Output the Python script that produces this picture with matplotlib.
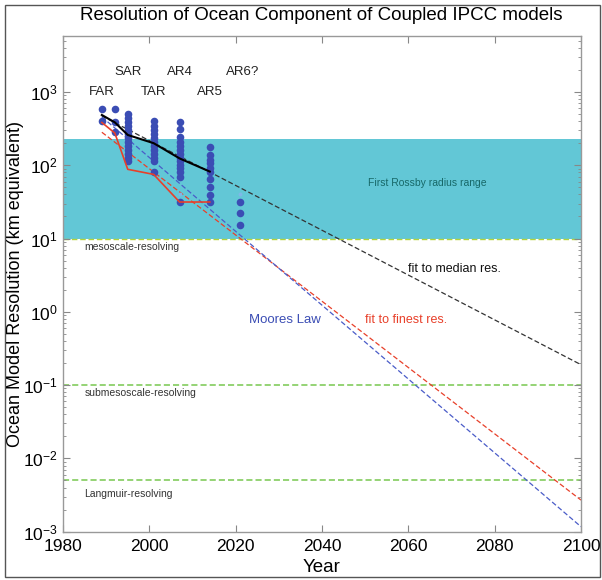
import matplotlib
matplotlib.use("Agg")
import matplotlib.pyplot as plt
from matplotlib.patches import Rectangle
import numpy as np

plt.rcParams['font.family'] = ['Liberation Sans', 'DejaVu Sans']
plt.rcParams['mathtext.fontset'] = 'custom'
plt.rcParams['mathtext.rm'] = 'Liberation Sans'
plt.rcParams['mathtext.it'] = 'Liberation Sans:italic'

# ---- data ----
model_years = [1989, 1992, 1995, 2001, 2007, 2014, 2021]
model_res = [
    [580, 400],
    [580, 390, 280],
    [500, 440, 390, 345, 305, 265, 235, 210, 185, 160, 143, 126, 115],
    [400, 345, 305, 265, 235, 210, 185, 160, 143, 126, 114, 80],
    [390, 310, 243, 210, 185, 160, 143, 126, 114, 101, 92, 80, 70, 31.5],
    [179, 138, 118, 106, 92, 81, 65, 50.6, 39, 31.5],
    [32, 22, 15.3],
]
faint_years = [2007, 2021]
faint_res = [40, 40]

median_years = [1989, 1992, 1995, 2001, 2007, 2014]
median_res = [485, 385, 259, 200, 124, 82]
finest_years = [1989, 1992, 1995, 2001, 2007, 2014]
finest_res = [383, 275, 88, 75, 31.5, 31.5]

fit_years = [1989, 2100]
median_fit = [470, 0.19]
finest_fit = [282, 0.0027]
moore_fit = [457, 0.00117]

rossby_range = [10, 226]
submeso_res = 0.1
langmuir_res = 0.005

report_names = ["FAR", "SAR", "TAR", "AR4", "AR5", "AR6?"]
report_years = [1989, 1995, 2001, 2007, 2014, 2021.6]
report_levels = [1000, 1900, 1000, 1900, 1000, 1900]

xticks = [1980, 2000, 2020, 2040, 2060, 2080, 2100]

# ---- figure ----
fig = plt.figure(figsize=(6.02, 5.80), dpi=100)
ax = fig.add_axes([63/602, 1-531.7/580, (581-63)/602, (531.7-36)/580])
ax.set_yscale('log')
ax.set_xlim(1980, 2100)
ax.set_ylim(1e-3, 5800)

ax.axhspan(rossby_range[0], rossby_range[1], color='#62C7D6', zorder=0, lw=0)
ax.axhline(rossby_range[0], color='#B5D33A', ls=(0, (4, 2)), lw=1.0, zorder=1)
ax.axhline(submeso_res, color='#78C850', ls=(0, (4, 2)), lw=1.1, zorder=1)
ax.axhline(langmuir_res, color='#78C850', ls=(0, (4, 2)), lw=1.1, zorder=1)

ax.plot(fit_years, median_fit, color='#333333', ls=(0, (4, 2)), lw=0.9, zorder=2)
ax.plot(fit_years, finest_fit, color='#E8402A', ls=(0, (4, 2)), lw=0.9, zorder=2)
ax.plot(fit_years, moore_fit, color='#4A5CC8', ls=(0, (4, 2)), lw=0.9, zorder=2)

for yr, vals in zip(model_years, model_res):
    ax.scatter([yr]*len(vals), vals, s=30, color='#3B4DB4', lw=0, zorder=3)
ax.scatter(faint_years, faint_res, s=8, color='#7FB8E8', lw=0, zorder=3)

ax.plot(median_years, median_res, color='black', lw=1.5, zorder=4)
ax.plot(finest_years, finest_res, color='#E8402A', lw=1.2, zorder=4)

for name, yr, lv in zip(report_names, report_years, report_levels):
    ax.text(yr, lv, name, ha='center', va='center', fontsize=9.5, color='#222222')

ax.text(2064.3, 58, "First Rossby radius range", ha='center', va='center',
        fontsize=7.5, color='#176868')
ax.text(1985, 10**0.89, "mesoscale-resolving", ha='left', va='center', fontsize=7.5, color='#333333')
ax.text(1985, 10**-1.11, "submesoscale-resolving", ha='left', va='center', fontsize=7.5, color='#333333')
ax.text(1985, 10**-2.48, "Langmuir-resolving", ha='left', va='center', fontsize=7.5, color='#333333')
ax.text(2060, 3.9, "fit to median res.", ha='left', va='center', fontsize=9, color='#111111')
ax.text(2050, 0.77, "fit to finest res.", ha='left', va='center', fontsize=9, color='#E8402A')
ax.text(2023, 0.77, "Moores Law", ha='left', va='center', fontsize=9.5, color='#3B4DB4')

ax.set_xticks(xticks)
ax.set_xticklabels([str(t) for t in xticks])
ax.tick_params(axis='both', which='both', direction='in', top=True, right=True,
               colors='#888888', labelcolor='black', labelsize=12.5)
ax.tick_params(axis='both', which='major', length=5, width=0.8)
ax.tick_params(axis='both', which='minor', length=2.5, width=0.6)
ax.tick_params(axis='x', pad=5)
ax.tick_params(axis='y', pad=4)
for s in ax.spines.values():
    s.set_color('#999999')
    s.set_linewidth(1.0)

fig.text(321/602, 1-16/580, "Resolution of Ocean Component of Coupled IPCC models",
         ha='center', va='center', fontsize=13.5)
fig.text(16/602, 0.51, "Ocean Model Resolution (km equivalent)", rotation=90,
         ha='center', va='center', fontsize=13)
fig.text(322/602, 1-567/580, "Year", ha='center', va='center', fontsize=13.5)

fig.patches.append(Rectangle((5/602, 3/580), 595/602, 572/580, transform=fig.transFigure,
                             fill=False, edgecolor='#555555', lw=1.0))

fig.savefig("out.png", dpi=100)
